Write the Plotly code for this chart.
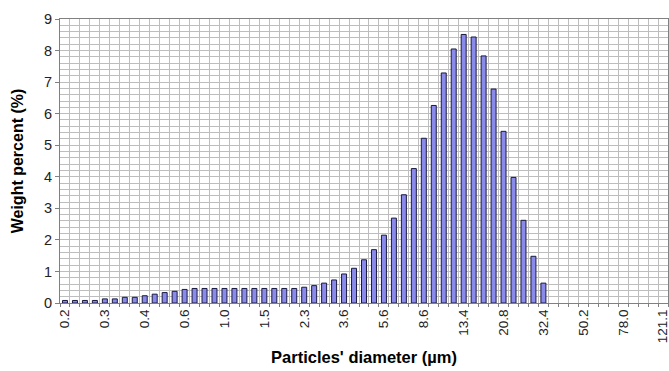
import plotly.graph_objects as go

tick_labels = ["0.2", "0.3", "0.4", "0.6", "1.0", "1.5", "2.3", "3.6", "5.6",
               "8.6", "13.4", "20.8", "32.4", "50.2", "78.0", "121.1"]
n_categories = 61
weight_percent = [0.08, 0.08, 0.08, 0.08, 0.13, 0.13, 0.18, 0.18, 0.23, 0.28,
                  0.33, 0.37, 0.43, 0.46, 0.46, 0.46, 0.46, 0.46, 0.46, 0.46,
                  0.46, 0.46, 0.46, 0.46, 0.50, 0.55, 0.63, 0.73, 0.92, 1.10,
                  1.37, 1.69, 2.15, 2.69, 3.43, 4.26, 5.22, 6.26, 7.29, 8.05,
                  8.51, 8.43, 7.83, 6.78, 5.44, 3.98, 2.62, 1.48, 0.63]

x_idx = list(range(len(weight_percent)))
tick_pos = list(range(0, n_categories, 4))

FONT = "Liberation Sans, Arial, sans-serif"

fig = go.Figure(go.Bar(
    x=x_idx, y=weight_percent, width=0.5,
    marker=dict(color="#8a8aea", line=dict(color="#1a1a40", width=1)),
))

fig.update_layout(
    width=669, height=371,
    margin=dict(l=60, r=1, t=19, b=68),
    paper_bgcolor="white", plot_bgcolor="white",
    showlegend=False,
    font=dict(family=FONT, color="black"),
)

fig.update_xaxes(
    range=[-0.5, n_categories - 0.5], automargin=False,
    tickmode="array", tickvals=tick_pos, ticktext=tick_labels,
    tickangle=-90, tickfont=dict(size=13.5, family=FONT, color="#222"),
    ticklabeloverflow="allow",
    ticks="", showgrid=False, zeroline=False,
    showline=True, linecolor="#808080", linewidth=1, mirror=True,
    minor=dict(tick0=0.5, dtick=1, showgrid=True, gridcolor="#bdbdbd",
               gridwidth=1, ticks="outside", ticklen=3, tickcolor="#808080"),
    title=dict(text="<b>Particles' diameter (µm)</b>", font=dict(size=16.5, family=FONT),
               standoff=9),
)

fig.update_yaxes(
    range=[0, 9], dtick=1, automargin=False,
    tickfont=dict(size=14.5, family=FONT, color="#222"),
    ticks="outside", ticklen=4, tickcolor="#808080",
    showgrid=True, gridcolor="#bdbdbd", gridwidth=1, zeroline=False,
    showline=True, linecolor="#808080", linewidth=1, mirror=True,
    minor=dict(dtick=0.2, showgrid=True, gridcolor="#bdbdbd", gridwidth=1),
    title=dict(text="<b>Weight percent (%)</b>", font=dict(size=16, family=FONT),
               standoff=16),
)

fig.write_html(
    "out.html",
    config={"displayModeBar": False},
    post_script="document.body.style.margin='0';document.body.style.overflow='hidden';",
)
